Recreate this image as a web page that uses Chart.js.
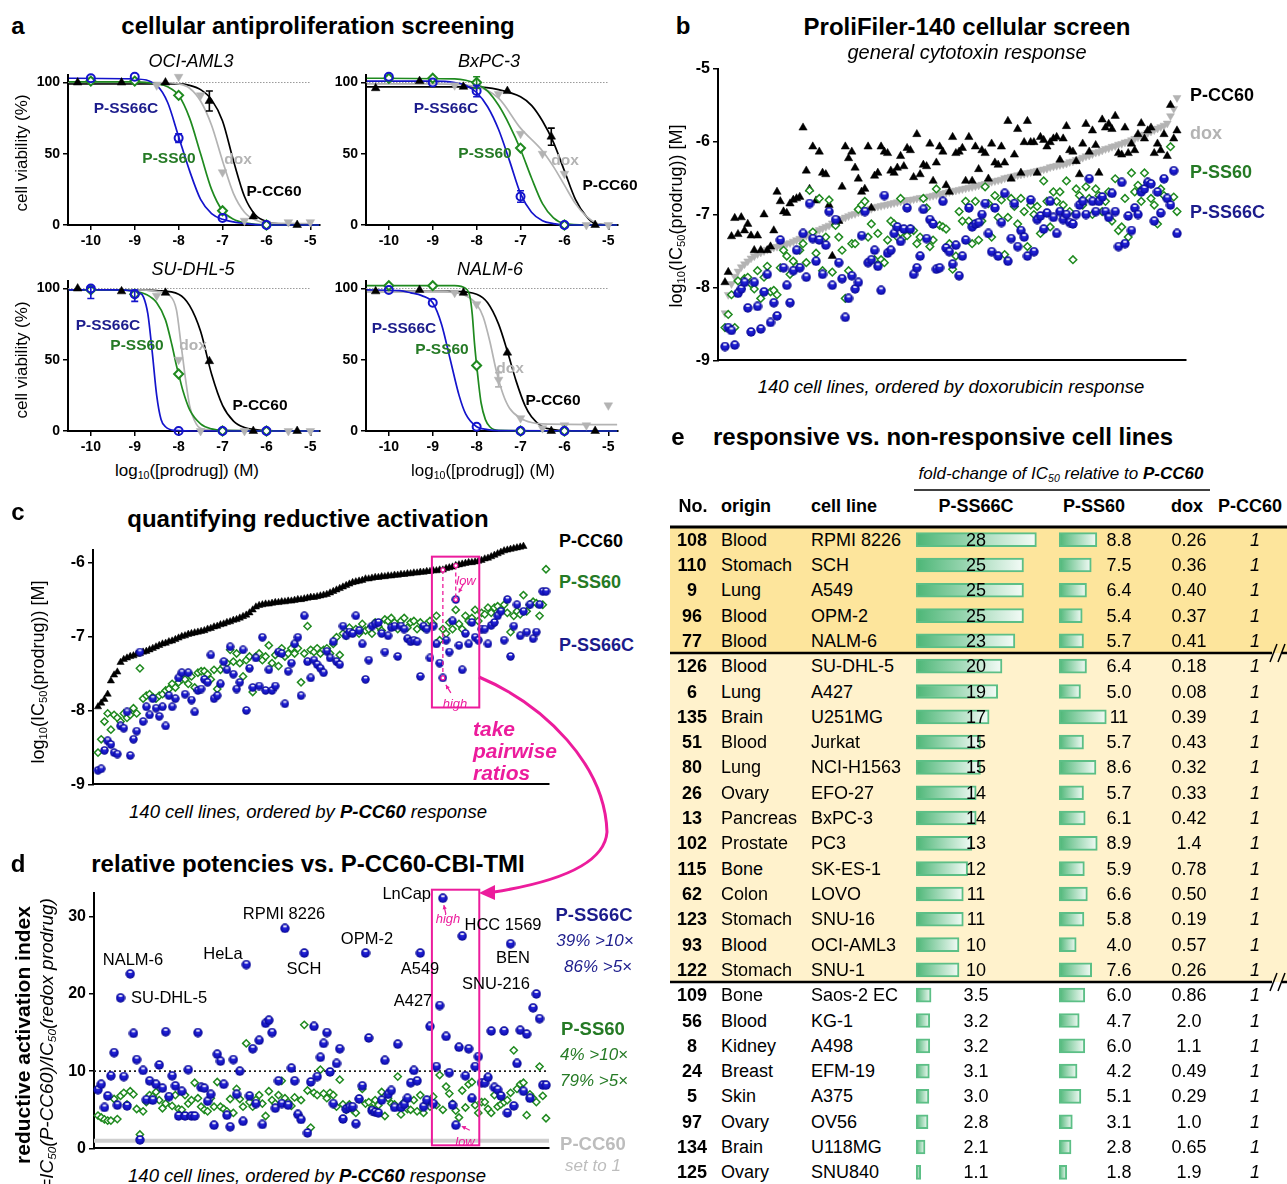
<!DOCTYPE html>
<html>
<head>
<meta charset="utf-8">
<title>reductive activation screening</title>
<script src="https://cdn.jsdelivr.net/npm/chart.js@4.4.1/dist/chart.umd.min.js"></script>
<style>
  html, body { margin: 0; background: #fff; }
  #page { position: relative; width: 1287px; height: 1184px; overflow: hidden; font-family: "Liberation Sans", Arial, sans-serif; color: #000; }
  #page canvas { position: absolute; z-index: 1; }
  .t { position: absolute; white-space: nowrap; line-height: 1; z-index: 2; }
  .bg { position: absolute; z-index: 0; }
  sub { font-size: 0.62em; vertical-align: -0.3em; line-height: 0; }
  #ov { position: absolute; left: 0; top: 0; z-index: 3; pointer-events: none; }
</style>
</head>
<body>
<div id="page">
  <div class="bg" style="left:670px;top:527px;width:617px;height:126px;background:#fde59c"></div>
  <div class="bg" style="left:670px;top:653px;width:617px;height:329px;background:#fff2cc"></div>
  <svg id="ov" width="1287" height="1184">
    <path d="M479 677 C545 705 605 765 607 832 C605 860 570 880 494 892" stroke="#ec1c9c" stroke-width="3" fill="none"/>
    <polygon points="479,893 495,885 495,900" fill="#ec1c9c"/>
    <line x1="914" y1="490" x2="1210" y2="490" stroke="#000" stroke-width="1.5"/>
    <line x1="670" y1="527" x2="1287" y2="527" stroke="#000" stroke-width="3"/>
    <line x1="670" y1="653" x2="1272" y2="653" stroke="#000" stroke-width="2.5"/>
    <line x1="1282" y1="653" x2="1287" y2="653" stroke="#000" stroke-width="2.5"/>
    <line x1="1270" y1="662" x2="1277" y2="644" stroke="#000" stroke-width="1.5"/>
    <line x1="1278" y1="662" x2="1285" y2="644" stroke="#000" stroke-width="1.5"/>
    <line x1="670" y1="982" x2="1272" y2="982" stroke="#000" stroke-width="2.5"/>
    <line x1="1282" y1="982" x2="1287" y2="982" stroke="#000" stroke-width="2.5"/>
    <line x1="1270" y1="991" x2="1277" y2="973" stroke="#000" stroke-width="1.5"/>
    <line x1="1278" y1="991" x2="1285" y2="973" stroke="#000" stroke-width="1.5"/>
  </svg>
</div>
<script>
// =========================
// DATA
// =========================

// panel a: dose-response, 4 cell lines
const aLines = ["OCI-AML3", "BxPC-3", "SU-DHL-5", "NALM-6"];
const aDoseProd = [-10, -9, -8, -7, -6];
const aDoseCC = [-10.3, -9.3, -8.3, -7.3, -6.3, -5.3];
const aDoseDox = [-8.5, -8, -7.5, -7, -6.5, -6, -5.5, -5];

const aSS66C = [[103, 104, 61, 5, 0], [104, 100, 94, 20, 0], [100, 96, 0, 0, 0], [99, 90, 3, 0, 0]];
const aSS60 = [[101, 101, 91, 10, 0], [103, 103, 100, 54, 0], [99, 96, 40, 0, 0], [102, 102, 46, 0, 0]];
const aCC60 = [[100, 100, 100, 87, 6, 0], [96, 101, 97, 94, 62, 0], [100, 98, 97, 49, 0, 0], [98, 99, 97, 55, 0, 0]];
const aDox = [[98, 104, 91, 37, 3, 1, 2, 2], [98, 97, 92, 64, 50, 36, 0, 0], [95, 50, 0, 0, 0, 0, 0, 0], [97, 89, 36, 9, 2, 4, 4, 18]];

// fitted curves, [log dose, viability]
const aFitSS66C = [
  [[-10.5, 103], [-9, 102.5], [-8.5, 98], [-8.25, 86], [-8, 62], [-7.75, 38], [-7.5, 18], [-7.25, 8], [-7, 4], [-6.5, 1], [-6, 0], [-4.8, 0]],
  [[-10.5, 101], [-9, 101], [-8.5, 100], [-8.25, 98], [-8, 93], [-7.75, 83], [-7.5, 67], [-7.25, 45], [-7, 22], [-6.75, 9], [-6.5, 3], [-6.25, 1], [-6, 0], [-4.8, 0]],
  [[-10.5, 99], [-9.5, 99], [-9, 98], [-8.9, 97], [-8.8, 94], [-8.7, 82], [-8.6, 55], [-8.5, 25], [-8.4, 8], [-8.3, 3], [-8.1, 0.5], [-7.5, 0], [-4.8, 0]],
  [[-10.5, 99], [-9.75, 98.5], [-9.5, 97], [-9.25, 95], [-9, 90], [-8.8, 75], [-8.6, 50], [-8.4, 25], [-8.25, 12], [-8, 3], [-7.75, 1], [-7.5, 0.3], [-4.8, 0]]
];
const aFitSS60 = [
  [[-10.5, 100.5], [-9, 100.5], [-8.5, 99], [-8.25, 97], [-8, 91], [-7.75, 75], [-7.5, 50], [-7.25, 25], [-7, 10], [-6.75, 4], [-6.5, 1.5], [-6, 0], [-4.8, 0]],
  [[-10.5, 103], [-8.5, 102.5], [-8, 99], [-7.75, 94], [-7.5, 84], [-7.25, 70], [-7, 53], [-6.75, 33], [-6.5, 15], [-6.25, 5], [-6, 1], [-5.5, 0], [-4.8, 0]],
  [[-10.5, 99], [-9.5, 99], [-9, 98], [-8.75, 96], [-8.5, 90], [-8.3, 78], [-8.15, 60], [-8.05, 46], [-8, 40], [-7.9, 28], [-7.75, 15], [-7.5, 5], [-7.25, 1.5], [-7, 0.5], [-4.8, 0]],
  [[-10.5, 102], [-8.5, 102], [-8.25, 100], [-8.15, 94], [-8.1, 82], [-8.05, 62], [-8, 46], [-7.95, 32], [-7.9, 20], [-7.8, 8], [-7.7, 3], [-7.5, 0.5], [-4.8, 0]]
];
const aFitDox = [
  [[-10.5, 100], [-8.5, 100], [-8, 99], [-7.75, 96], [-7.5, 87], [-7.25, 70], [-7, 45], [-6.75, 22], [-6.5, 9], [-6.25, 3.5], [-6, 1.5], [-5, 1]],
  [[-10.5, 99], [-9, 99], [-8, 97], [-7.5, 89], [-7, 68], [-6.5, 52], [-6.25, 41], [-6, 28], [-5.75, 15], [-5.5, 6], [-5.25, 1], [-5, 0]],
  [[-10.5, 99], [-9, 99], [-8.5, 98], [-8.2, 95], [-8.05, 85], [-7.95, 62], [-7.9, 50], [-7.85, 38], [-7.75, 18], [-7.6, 5], [-7.4, 1], [-4.8, 0]],
  [[-10.5, 98], [-9, 98], [-8.5, 97], [-8.25, 95], [-8, 89], [-7.85, 80], [-7.7, 63], [-7.55, 42], [-7.4, 26], [-7.25, 16], [-7, 9], [-6.75, 6], [-6.5, 5], [-4.8, 4.5]]
];
const aFitCC60 = [
  [[-10.5, 99], [-8, 99], [-7.75, 98], [-7.5, 95], [-7.25, 88], [-7, 73], [-6.75, 45], [-6.5, 20], [-6.25, 7], [-6, 2.5], [-5.5, 0.5], [-4.8, 0]],
  [[-10.5, 97], [-8, 97], [-7.5, 95], [-7, 90], [-6.75, 84], [-6.5, 73], [-6.25, 58], [-6, 38], [-5.75, 18], [-5.5, 6], [-5.3, 1], [-4.8, 0]],
  [[-10.5, 99], [-9, 99], [-8.5, 98.5], [-8, 96], [-7.75, 88], [-7.5, 70], [-7.25, 40], [-7, 18], [-6.75, 7], [-6.5, 2.5], [-6.25, 1], [-6, 0.3], [-4.8, 0]],
  [[-10.5, 98], [-8.5, 98], [-8, 96], [-7.75, 90], [-7.5, 75], [-7.3, 56], [-7.1, 35], [-6.9, 18], [-6.75, 10], [-6.5, 3], [-6.25, 1], [-6, 0.3], [-4.8, 0]]
];
// error bars [log dose, mean, sd, series]
const aErr = [
  [[-7.3, 87, 7, "cc"], [-8, 61, 3, "ss66c"]],
  [[-8, 100, 4, "ss60"], [-8, 94, 4, "ss66c"], [-7, 20, 4, "ss66c"], [-6.3, 62, 6, "cc"]],
  [[-10, 97, 4, "ss66c"], [-9, 95, 4, "ss66c"]],
  [[-7.5, 36, 5, "dox"]]
];

// panel b: log10 IC50 over 140 cell lines ordered by doxorubicin
const bDox = [
  -8.35, -8.10, -7.95, -7.85, -7.78, -7.72, -7.68, -7.64, -7.60, -7.57,
  -7.54, -7.52, -7.50, -7.48, -7.47, -7.45, -7.44, -7.43, -7.42, -7.40,
  -7.39, -7.37, -7.35, -7.33, -7.31, -7.29, -7.27, -7.25, -7.23, -7.21,
  -7.19, -7.17, -7.15, -7.12, -7.10, -7.08, -7.06, -7.04, -7.02, -7.00,
  -6.99, -6.97, -6.96, -6.94, -6.93, -6.92, -6.90, -6.89, -6.88, -6.87,
  -6.86, -6.85, -6.84, -6.83, -6.82, -6.81, -6.80, -6.80, -6.79, -6.78,
  -6.77, -6.77, -6.76, -6.75, -6.74, -6.73, -6.72, -6.71, -6.70, -6.69,
  -6.68, -6.67, -6.66, -6.65, -6.64, -6.63, -6.62, -6.61, -6.60, -6.59,
  -6.58, -6.57, -6.55, -6.54, -6.53, -6.52, -6.50, -6.49, -6.48, -6.47,
  -6.46, -6.45, -6.44, -6.43, -6.42, -6.41, -6.40, -6.39, -6.38, -6.37,
  -6.35, -6.34, -6.33, -6.32, -6.31, -6.30, -6.28, -6.27, -6.25, -6.24,
  -6.22, -6.20, -6.19, -6.17, -6.15, -6.14, -6.12, -6.10, -6.09, -6.07,
  -6.06, -6.04, -6.03, -6.01, -6.00, -5.98, -5.96, -5.94, -5.92, -5.90,
  -5.88, -5.86, -5.84, -5.82, -5.80, -5.78, -5.75, -5.65, -5.55, -5.40
];
const bCC60 = [
  -7.93, -7.79, -7.30, -7.05, -7.27, -7.04, -7.22, -7.13, -7.29, -7.49,
  -7.29, -7.49, -7.00, -7.49, -7.44, -7.22, -6.69, -6.82, -6.96, -6.98,
  -6.85, -6.80, -6.78, -6.76, -5.81, -6.40, -6.65, -6.07, -6.81, -6.14,
  -6.43, -6.45, -6.87, -7.57, -7.11, -7.09, -6.62, -6.07, -6.23, -6.14,
  -6.36, -6.51, -6.69, -6.65, -6.07, -6.91, -6.47, -6.43, -6.07, -6.14,
  -6.16, -6.40, -6.43, -6.36, -6.20, -6.34, -6.09, -6.12, -6.49, -5.90,
  -6.45, -6.32, -6.34, -6.03, -6.54, -6.29, -6.07, -6.14, -6.60, -6.69,
  -5.94, -6.16, -6.14, -6.09, -6.54, -5.94, -6.54, -6.07, -6.38, -6.12,
  -6.16, -6.51, -6.03, -6.29, -6.32, -6.07, -6.29, -5.72, -6.51, -6.18,
  -5.83, -6.43, -6.01, -5.72, -6.01, -6.01, -6.43, -5.94, -5.98, -6.07,
  -6.01, -5.96, -5.94, -6.25, -5.96, -5.79, -6.12, -6.14, -6.27, -6.45,
  -6.03, -5.76, -6.14, -5.85, -6.05, -6.43, -5.70, -5.81, -5.76, -5.83,
  -5.65, -6.16, -6.18, -5.81, -6.16, -6.03, -6.12, -5.90, -5.75, -5.96,
  -5.85, -5.81, -6.16, -6.03, -6.12, -5.90, -6.20, -5.50, -5.96, -5.85
];
const bSS60 = [
  -8.55, -8.37, -8.10, -8.55, -7.91, -8.02, -7.88, -7.86, -7.95, -8.02,
  -7.77, -8.15, -7.86, -7.71, -8.06, -8.04, -8.10, -7.73, -7.49, -7.57,
  -7.82, -7.64, -7.71, -7.49, -7.40, -7.66, -6.67, -7.24, -7.53, -6.78,
  -7.77, -7.31, -6.80, -7.79, -7.15, -7.31, -7.49, -8.15, -7.77, -7.40,
  -7.40, -6.93, -6.87, -6.82, -7.31, -7.13, -7.62, -7.26, -7.62, -7.66,
  -7.35, -7.09, -7.13, -7.31, -6.78, -7.31, -7.29, -7.20, -7.22, -7.40,
  -7.31, -6.78, -6.91, -7.44, -7.35, -6.65, -7.15, -7.17, -7.20, -7.40,
  -7.75, -7.57, -6.96, -7.09, -6.82, -7.09, -7.40, -6.82, -7.35, -7.09,
  -6.62, -6.85, -7.31, -6.74, -7.04, -6.80, -7.55, -7.04, -6.78, -6.89,
  -7.13, -6.78, -6.96, -7.44, -6.87, -7.00, -6.89, -7.26, -6.54, -6.82,
  -7.17, -6.69, -6.82, -6.69, -6.87, -6.54, -6.96, -7.62, -6.65, -6.74,
  -6.87, -6.62, -6.78, -7.00, -6.65, -6.74, -6.96, -6.82, -6.69, -7.09,
  -6.51, -7.22, -7.17, -6.78, -7.31, -6.43, -6.69, -6.60, -6.82, -6.43,
  -6.56, -6.78, -6.87, -7.13, -6.65, -6.74, -6.78, -6.07, -6.76, -6.96
];
const bSS66C = [
  -8.81, -8.55, -8.59, -8.79, -8.08, -8.02, -7.93, -8.28, -8.61, -7.93,
  -8.26, -8.57, -8.06, -7.82, -8.48, -8.21, -8.39, -7.35, -7.73, -7.97,
  -8.21, -7.77, -7.49, -7.73, -7.26, -7.86, -6.85, -7.33, -7.64, -7.35,
  -7.82, -7.42, -6.96, -7.97, -7.07, -7.66, -7.88, -8.41, -8.15, -7.84,
  -8.02, -7.93, -7.29, -6.96, -7.66, -7.62, -7.49, -7.71, -8.04, -6.74,
  -7.53, -7.49, -7.26, -7.17, -7.37, -7.20, -6.91, -7.20, -7.82, -7.73,
  -7.57, -6.93, -7.33, -7.07, -7.13, -7.75, -7.73, -6.82, -7.46, -7.51,
  -7.68, -7.42, -7.84, -7.57, -7.35, -6.91, -7.17, -7.13, -7.11, -7.00,
  -6.85, -7.26, -7.51, -6.91, -7.57, -7.11, -6.71, -7.64, -7.33, -6.85,
  -7.44, -7.22, -7.31, -7.57, -6.80, -7.51, -7.07, -7.02, -7.20, -6.98,
  -6.82, -7.04, -7.26, -6.96, -7.07, -7.00, -7.11, -7.13, -7.00, -6.87,
  -6.82, -7.00, -6.51, -6.82, -6.96, -6.82, -6.76, -6.96, -7.04, -6.71,
  -6.96, -7.44, -6.56, -7.40, -7.02, -7.22, -6.91, -7.00, -6.69, -6.65,
  -6.56, -6.58, -7.09, -6.69, -6.98, -6.51, -6.78, -6.87, -6.40, -7.26
];

// panel c: same screen ordered by P-CC60
const cCC60 = [
  -7.95, -7.90, -7.85, -7.78, -7.60, -7.52, -7.48, -7.35, -7.31, -7.29,
  -7.27, -7.26, -7.24, -7.23, -7.21, -7.20, -7.18, -7.16, -7.14, -7.12,
  -7.10, -7.09, -7.07, -7.06, -7.04, -7.02, -7.00, -6.99, -6.97, -6.96,
  -6.95, -6.94, -6.93, -6.92, -6.90, -6.89, -6.87, -6.86, -6.84, -6.83,
  -6.81, -6.80, -6.78, -6.77, -6.75, -6.73, -6.71, -6.68, -6.64, -6.60,
  -6.58, -6.57, -6.56, -6.56, -6.55, -6.54, -6.54, -6.53, -6.53, -6.52,
  -6.52, -6.51, -6.50, -6.50, -6.49, -6.48, -6.47, -6.47, -6.46, -6.45,
  -6.44, -6.43, -6.41, -6.39, -6.37, -6.35, -6.33, -6.31, -6.29, -6.27,
  -6.26, -6.25, -6.24, -6.22, -6.22, -6.21, -6.20, -6.20, -6.19, -6.19,
  -6.18, -6.18, -6.17, -6.17, -6.16, -6.16, -6.15, -6.15, -6.14, -6.14,
  -6.13, -6.13, -6.12, -6.12, -6.11, -6.11, -6.10, -6.10, -6.08, -6.07,
  -6.06, -6.04, -6.03, -6.02, -6.01, -6.00, -6.00, -5.99, -5.98, -5.97,
  -5.95, -5.94, -5.92, -5.90, -5.88, -5.86, -5.84, -5.83, -5.82, -5.81,
  -5.80, -5.79, -5.78, -5.76, -5.75, -5.74, -5.72, -5.70, -5.68, -5.66
];
const cSS60 = [
  -8.57, -8.39, -8.15, -8.04, -8.26, -8.06, -8.10, -8.15, -8.04, -8.10,
  -8.06, -7.97, -8.04, -7.43, -7.84, -7.80, -7.78, -7.82, -7.84, -7.80,
  -7.78, -7.73, -7.71, -7.64, -7.69, -7.62, -7.58, -7.58, -7.64, -7.54,
  -7.69, -7.49, -7.47, -7.47, -7.51, -7.58, -7.45, -7.71, -7.45, -7.40,
  -7.36, -7.18, -7.34, -7.23, -7.36, -7.54, -7.32, -7.27, -7.75, -7.27,
  -7.23, -7.32, -7.27, -7.12, -7.36, -7.25, -7.40, -7.16, -7.27, -7.23,
  -7.16, -7.23, -7.16, -7.62, -7.23, -6.86, -7.18, -7.21, -7.16, -7.23,
  -7.18, -7.16, -7.23, -7.10, -7.01, -7.25, -6.96, -6.99, -6.88, -6.94,
  -6.90, -6.96, -6.83, -6.92, -6.90, -6.96, -6.81, -6.86, -6.92, -6.77,
  -6.79, -6.75, -6.81, -6.90, -6.79, -6.75, -6.88, -6.81, -6.79, -6.90,
  -6.81, -6.88, -6.83, -6.79, -6.83, -6.72, -7.05, -6.90, -6.96, -6.81,
  -6.90, -6.64, -6.83, -6.90, -6.72, -6.79, -6.75, -6.64, -6.79, -6.68,
  -6.70, -6.61, -6.68, -6.61, -6.59, -6.64, -6.57, -6.68, -6.94, -6.72,
  -6.66, -6.70, -6.44, -6.66, -6.57, -6.53, -6.55, -6.72, -6.57, -6.09
];
const cSS66C = [
  -8.81, -8.79, -8.54, -8.41, -8.46, -8.57, -8.59, -8.21, -8.24, -8.02,
  -8.61, -8.39, -8.28, -7.21, -8.15, -7.95, -8.06, -7.84, -7.97, -8.08,
  -7.95, -8.21, -7.80, -7.95, -7.84, -7.56, -7.49, -7.78, -7.49, -7.86,
  -8.02, -7.73, -7.71, -7.58, -7.62, -7.25, -7.84, -7.80, -7.64, -7.34,
  -7.45, -7.14, -7.51, -7.71, -7.62, -7.18, -8.00, -7.43, -7.69, -7.29,
  -7.67, -7.01, -7.73, -7.45, -7.73, -7.67, -7.21, -7.23, -7.91, -7.47,
  -7.36, -7.10, -7.01, -7.80, -6.72, -7.34, -7.56, -7.32, -7.38, -7.43,
  -7.49, -7.20, -7.29, -7.07, -7.34, -7.38, -6.86, -6.99, -6.94, -6.96,
  -6.72, -6.92, -7.10, -7.58, -7.32, -6.86, -6.83, -6.81, -6.96, -7.21,
  -6.99, -6.88, -6.86, -7.27, -6.86, -6.90, -7.03, -7.07, -7.05, -7.07,
  -7.54, -6.86, -6.90, -7.29, -6.86, -7.10, -7.36, -7.56, -7.05, -7.21,
  -6.79, -6.50, -7.12, -7.45, -6.96, -7.10, -6.81, -7.01, -7.05, -6.90,
  -6.90, -7.10, -6.85, -6.81, -6.72, -6.66, -7.05, -6.50, -7.27, -6.86,
  -6.57, -6.99, -6.66, -6.94, -6.57, -7.03, -6.94, -6.57, -6.39, -6.39
];
const hiIdx = 107, loIdx = 111;          // highlighted pair
const boxIdx = [103.6, 118.3];           // pink window (cell-line index)
const cBoxY = [-5.92, -7.96];
const dBoxY = [33.5, 0.4];

// panel d: reductive activation index (fold vs P-CC60)
const dSS66C = [
  7.6, 8.3, 5.3, 6.8, 9.4, 12.4, 5.6, 19.5, 9.3, 5.5,
  22.6, 14.9, 11.5, 1.1, 10.1, 6.3, 8.75, 6.25, 8.3, 10.8,
  7.8, 15.1, 6.7, 9.4, 8.1, 4.2, 7.4, 4.2, 10.2, 4.2,
  4.2, 15.0, 7.9, 7.8, 6.1, 7.0, 3.0, 12.2, 11.3, 8.3,
  4.3, 2.8, 11.5, 7.0, 10.0, 3.5, 23.8, 6.8, 12.9, 5.8,
  14.0, 3.1, 16.2, 16.6, 15.0, 5.2, 8.75, 5.8, 28.5, 5.6,
  10.4, 8.75, 4.4, 3.75, 25.3, 2.0, 8.6, 15.8, 9.3, 11.8,
  13.6, 15.0, 9.9, 5.8, 11.0, 12.9, 3.8, 5.1, 5.3, 5.4,
  3.2, 6.4, 8.1, 25.3, 14.3, 4.9, 4.7, 4.6, 6.25, 11.4,
  7.0, 7.5, 5.3, 13.5, 5.3, 5.7, 6.5, 8.5, 10.1, 8.75,
  25.3, 5.4, 6.25, 15.8, 5.8, 10.6, 18.5, 32.4, 14.5, 9.8,
  5.6, 3.0, 13.1, 27.5, 9.4, 12.9, 6.5, 10.6, 11.9, 8.5,
  8.5, 9.2, 15.2, 7.9, 7.6, 6.8, 15.2, 4.6, 26.5, 5.5,
  11.0, 15.3, 7.4, 14.8, 6.5, 18.2, 20.0, 16.8, 8.2, 8.2
];
const dSS60 = [
  4.25, 4.0, 3.75, 3.6, 3.6, 6.4, 3.8, 6.8, 7.2, 5.7,
  7.4, 7.0, 5.1, 1.8, 4.8, 6.0, 6.9, 6.7, 7.3, 6.25,
  5.2, 5.8, 6.7, 5.5, 6.9, 5.1, 5.0, 6.9, 5.8, 6.25,
  8.5, 6.5, 5.4, 5.0, 4.8, 6.5, 5.4, 8.6, 5.4, 5.1,
  4.8, 6.4, 4.6, 7.7, 6.4, 5.4, 13.6, 6.0, 5.4, 6.3,
  6.9, 5.8, 4.2, 7.4, 6.25, 5.8, 6.9, 8.75, 6.5, 6.0,
  5.5, 6.6, 4.4, 6.25, 16.0, 7.5, 2.7, 7.2, 6.9, 10.2,
  7.1, 6.5, 7.2, 6.9, 5.4, 8.9, 5.7, 5.0, 5.7, 5.0,
  4.6, 6.4, 7.7, 5.8, 6.0, 5.2, 6.25, 5.6, 7.3, 4.2,
  6.5, 5.8, 5.7, 9.3, 4.4, 6.0, 5.1, 5.0, 6.25, 4.8,
  6.9, 4.6, 5.9, 5.4, 6.7, 5.6, 9.5, 5.0, 8.0, 7.1,
  5.8, 4.9, 4.0, 7.5, 5.3, 8.3, 8.6, 5.6, 4.6, 6.0,
  6.0, 5.1, 4.6, 6.9, 5.4, 5.7, 6.0, 6.25, 7.2, 12.7,
  7.7, 8.3, 8.5, 4.3, 7.0, 6.5, 6.0, 10.6, 6.8, 3.9
];
const dNames = [
  ["NALM-6", 133, 959, "c"], ["SU-DHL-5", 131, 997, "l"], ["HeLa", 223, 953, "c"],
  ["RPMI 8226", 284, 913, "c"], ["SCH", 304, 968, "c"], ["OPM-2", 367, 938, "c"],
  ["A549", 420, 968, "c"], ["A427", 413, 1000, "c"], ["LnCap", 431, 893, "r"],
  ["HCC 1569", 503, 924, "c"], ["BEN", 513, 957, "c"], ["SNU-216", 496, 983, "c"]
];

// panel e: table
const eNo = [108, 110, 9, 96, 77, 126, 6, 135, 51, 80, 26, 13, 102, 115, 62, 123, 93, 122, 109, 56, 8, 24, 5, 97, 134, 125];
const eOrigin = ["Blood", "Stomach", "Lung", "Blood", "Blood", "Blood", "Lung", "Brain", "Blood", "Lung", "Ovary", "Pancreas", "Prostate",
  "Bone", "Colon", "Stomach", "Blood", "Stomach", "Bone", "Blood", "Kidney", "Breast", "Skin", "Ovary", "Brain", "Ovary"];
const eCell = ["RPMI 8226", "SCH", "A549", "OPM-2", "NALM-6", "SU-DHL-5", "A427", "U251MG", "Jurkat", "NCI-H1563", "EFO-27", "BxPC-3", "PC3",
  "SK-ES-1", "LOVO", "SNU-16", "OCI-AML3", "SNU-1", "Saos-2 EC", "KG-1", "A498", "EFM-19", "A375", "OV56", "U118MG", "SNU840"];
const eSS66C = [28, 25, 25, 25, 23, 20, 19, 17, 15, 15, 14, 14, 13, 12, 11, 11, 10, 10, 3.5, 3.2, 3.2, 3.1, 3.0, 2.8, 2.1, 1.1];
const eSS60 = [8.8, 7.5, 6.4, 5.4, 5.7, 6.4, 5.0, 11, 5.7, 8.6, 5.7, 6.1, 8.9, 5.9, 6.6, 5.8, 4.0, 7.6, 6.0, 4.7, 6.0, 4.2, 5.1, 3.1, 2.8, 1.8];
const eDox = [0.26, 0.36, 0.40, 0.37, 0.41, 0.18, 0.08, 0.39, 0.43, 0.32, 0.33, 0.42, 1.4, 0.78, 0.50, 0.19, 0.57, 0.26, 0.86, 2.0, 1.1, 0.49, 0.29, 1.0, 0.65, 1.9];

// =========================
// STYLE
// =========================

const C_BLUE = "#1414cc", C_BLUE_T = "#1c1c8c", C_GREEN = "#1f8a1f", C_GREEN_T = "#257a25";
const C_GRAY = "#b3b3b3", C_PINK = "#ec1c9c";
const FONT = '"Liberation Sans", Arial, sans-serif';

Chart.defaults.font.family = FONT;
Chart.defaults.color = "#000";

const page = document.getElementById("page");

function T(x, y, html, css, anchor) {
  const d = document.createElement("div");
  d.className = "t";
  d.innerHTML = html;
  d.style.cssText = "left:" + x + "px;top:" + y + "px;" + (css || "");
  const a = anchor || "c";
  d.style.transform = a === "l" ? "translate(0,-50%)" : a === "r" ? "translate(-100%,-50%)"
    : a === "v" ? "translate(-50%,-50%) rotate(-90deg)" : "translate(-50%,-50%)";
  page.appendChild(d);
}
const f = (size, extra) => "font-size:" + size + "px;" + (extra || "");
const B = "font-weight:bold;", I = "font-style:italic;";

function sphere(d) {
  const c = document.createElement("canvas");
  c.width = d; c.height = d;
  const g = c.getContext("2d"), r = d / 2;
  const gr = g.createRadialGradient(r, r * 0.9, 0, r, r, r);
  gr.addColorStop(0, "#2c2ce2");
  gr.addColorStop(0.7, "#1010b8");
  gr.addColorStop(1, "#05057c");
  g.fillStyle = gr;
  g.beginPath(); g.arc(r, r, r - 0.3, 0, 2 * Math.PI); g.fill();
  g.fillStyle = "rgba(255,255,255,0.95)";
  g.beginPath(); g.ellipse(r, r * 0.6, r * 0.42, r * 0.2, 0, 0, 2 * Math.PI); g.fill();
  return c;
}
const ball10 = sphere(10), ball9 = sphere(9);

function lin(min, max, ticks, size) {
  const ax = {
    type: "linear", min, max,
    border: { display: true, color: "#000", width: 2 },
    grid: { display: true, drawOnChartArea: false, drawTicks: !!ticks, tickLength: 5, color: "#000", lineWidth: 1.5 },
    ticks: { display: !!ticks, color: "#000", font: { size: size, weight: "bold" }, padding: 3, autoSkip: false, maxRotation: 0,
      callback: v => String(v) }
  };
  if (ticks) ax.afterBuildTicks = s => { s.ticks = ticks.map(v => ({ value: v })); };
  return ax;
}

function plot(b, datasets, xs, ys, plugins) {
  const cv = document.createElement("canvas");
  const W = Math.round(b.yw + b.w + b.pr), H = Math.round(b.pt + b.h + b.xh);
  cv.width = W; cv.height = H;
  cv.style.left = (b.l - b.yw) + "px";
  cv.style.top = (b.t - b.pt) + "px";
  cv.style.width = W + "px"; cv.style.height = H + "px";
  page.appendChild(cv);
  xs.afterFit = s => { s.height = b.xh; };
  ys.afterFit = s => { s.width = b.yw; };
  return new Chart(cv, {
    type: "scatter",
    data: { datasets },
    options: {
      responsive: false, maintainAspectRatio: false, animation: false, events: [],
      layout: { padding: { top: b.pt, right: b.pr, left: 0, bottom: 0 }, autoPadding: false },
      scales: { x: xs, y: ys },
      plugins: { legend: { display: false }, tooltip: { enabled: false } }
    },
    plugins: plugins || []
  });
}

const xy = (xs, ys) => xs.map((x, i) => ({ x, y: ys[i] }));
const pairs = arr => arr.map(([x, y]) => ({ x, y }));
const idx = arr => arr.map((y, i) => ({ x: i, y }));

const ballSet = (data, img) => ({ data, pointStyle: img, pointRadius: 5, clip: false });
const diaSet = (data, r, w) => ({ data, pointStyle: "rectRot", pointRadius: r, borderColor: C_GREEN, backgroundColor: "#fff",
  borderWidth: w, pointBorderWidth: w, clip: false });
const triSet = (data, r, col, rot) => ({ data, pointStyle: "triangle", pointRotation: rot || 0, pointRadius: r, borderColor: col,
  backgroundColor: col, borderWidth: 0.5, pointBorderWidth: 0.5, clip: false });
const curveSet = (data, col, w, dash) => ({ data, showLine: true, pointRadius: 0, borderColor: col, borderWidth: w,
  borderDash: dash || [], cubicInterpolationMode: "monotone", clip: false });

function arrow(g, x1, y1, x2, y2) {
  const a = Math.atan2(y2 - y1, x2 - x1), h = 4.5;
  g.beginPath(); g.moveTo(x1, y1); g.lineTo(x2, y2); g.stroke();
  g.beginPath(); g.moveTo(x2, y2);
  g.lineTo(x2 - h * Math.cos(a - 0.5), y2 - h * Math.sin(a - 0.5));
  g.lineTo(x2 - h * Math.cos(a + 0.5), y2 - h * Math.sin(a + 0.5));
  g.closePath(); g.fill();
}

// =========================
// PANEL A
// =========================

const errColor = { cc: "#000", ss66c: C_BLUE, ss60: C_GREEN, dox: C_GRAY };
const errPlugin = list => ({
  id: "errbars",
  afterDatasetsDraw(ch) {
    const g = ch.ctx, sx = ch.scales.x, sy = ch.scales.y;
    g.save(); g.lineWidth = 1.6;
    list.forEach(([x, y, e, s]) => {
      const px = sx.getPixelForValue(x), p1 = sy.getPixelForValue(y - e), p2 = sy.getPixelForValue(y + e);
      g.strokeStyle = errColor[s];
      g.beginPath();
      g.moveTo(px, p1); g.lineTo(px, p2);
      g.moveTo(px - 3.5, p1); g.lineTo(px + 3.5, p1);
      g.moveTo(px - 3.5, p2); g.lineTo(px + 3.5, p2);
      g.stroke();
    });
    g.restore();
  }
});

const aBoxes = [[68, 73.8], [366, 73.8], [68, 279.8], [366, 279.8]];
aLines.forEach((name, k) => {
  const [l, t] = aBoxes[k];
  plot({ l, t, w: 252, h: 151.2, yw: 42, xh: 28, pt: 10, pr: 12 }, [
    { data: xy(aDoseProd, aSS66C[k]), pointStyle: "circle", pointRadius: 4, borderColor: C_BLUE, backgroundColor: "rgba(255,255,255,0)",
      borderWidth: 2, pointBorderWidth: 2, clip: false },
    diaSet(xy(aDoseProd, aSS60[k]), 4.5, 2),
    triSet(xy(aDoseCC, aCC60[k]), 5, "#000"),
    triSet(xy(aDoseDox, aDox[k]), 5, C_GRAY, 180),
    curveSet(pairs(aFitSS66C[k]), C_BLUE, 1.7),
    curveSet(pairs(aFitSS60[k]), C_GREEN, 1.7),
    curveSet(pairs(aFitDox[k]), C_GRAY, 1.7),
    curveSet(pairs(aFitCC60[k]), "#000", 1.7),
    curveSet([{ x: -10.52, y: 100 }, { x: -5, y: 100 }], "#9a9a9a", 1, [1.5, 1.5])
  ], lin(-10.52, -4.78, [-10, -9, -8, -7, -6, -5], 14), lin(0, 105, [0, 50, 100], 14), [errPlugin(aErr[k])]);
});

// =========================
// PANEL B
// =========================

plot({ l: 718, t: 66, w: 468, h: 301, yw: 48, xh: 6, pt: 10, pr: 12 }, [
  ballSet(idx(bSS66C), ball10),
  diaSet(idx(bSS60), 3.8, 1.5),
  triSet(idx(bCC60), 4.8, "#000"),
  triSet(idx(bDox), 4.6, C_GRAY, 180)
], lin(-2.15, 141.77, null, 16), lin(-9, -5, [-9, -8, -7, -6, -5], 16));

// =========================
// PANEL C
// =========================

const cMarks = {
  id: "cMarks",
  afterDatasetsDraw(ch) {
    const g = ch.ctx, sx = ch.scales.x, sy = ch.scales.y;
    g.save();
    g.strokeStyle = C_PINK; g.fillStyle = C_PINK; g.lineWidth = 2;
    const bx1 = sx.getPixelForValue(boxIdx[0]), bx2 = sx.getPixelForValue(boxIdx[1]);
    const by1 = sy.getPixelForValue(cBoxY[0]), by2 = sy.getPixelForValue(cBoxY[1]);
    g.strokeRect(bx1, by1, bx2 - bx1, by2 - by1);
    g.lineWidth = 1.3;
    [hiIdx, loIdx].forEach(i => {
      const px = sx.getPixelForValue(i), p1 = sy.getPixelForValue(cCC60[i]), p2 = sy.getPixelForValue(cSS66C[i]);
      g.setLineDash([4, 3]);
      g.beginPath(); g.moveTo(px, p1); g.lineTo(px, p2); g.stroke();
      g.setLineDash([]);
      [p1, p2].forEach(py => {
        g.beginPath(); g.arc(px, py, 2, 0, 2 * Math.PI);
        g.fillStyle = "#fff"; g.fill(); g.stroke();
      });
    });
    g.fillStyle = C_PINK; g.lineWidth = 1.2;
    const lx = sx.getPixelForValue(loIdx), ly = sy.getPixelForValue(cSS66C[loIdx]);
    arrow(g, lx + 8, ly - 16, lx + 3, ly - 7);
    const hx = sx.getPixelForValue(hiIdx), hy = sy.getPixelForValue(cSS66C[hiIdx]);
    arrow(g, hx + 8, hy + 15, hx + 3, hy + 7);
    g.restore();
  }
};

plot({ l: 93, t: 550, w: 456, h: 241, yw: 45, xh: 6, pt: 16, pr: 10 }, [
  ballSet(idx(cSS66C), ball9),
  diaSet(idx(cSS60), 3.6, 1.5),
  triSet(idx(cCC60), 4.2, "#000")
], lin(-1.55, 139.93, null, 16), lin(-9, -5.83, [-9, -8, -7, -6], 16), [cMarks]);

// =========================
// PANEL D
// =========================

const dMarks = {
  id: "dMarks",
  afterDatasetsDraw(ch) {
    const g = ch.ctx, sx = ch.scales.x, sy = ch.scales.y;
    g.save();
    g.strokeStyle = C_PINK; g.fillStyle = C_PINK; g.lineWidth = 2;
    const bx1 = sx.getPixelForValue(boxIdx[0]), bx2 = sx.getPixelForValue(boxIdx[1]);
    const by1 = sy.getPixelForValue(dBoxY[0]), by2 = sy.getPixelForValue(dBoxY[1]);
    g.strokeRect(bx1, by1, bx2 - bx1, by2 - by1);
    g.lineWidth = 1.2;
    const hx = sx.getPixelForValue(hiIdx), hy = sy.getPixelForValue(dSS66C[hiIdx]);
    arrow(g, hx + 3, hy + 16, hx + 1, hy + 7);
    const lx = sx.getPixelForValue(loIdx), ly = sy.getPixelForValue(dSS66C[loIdx]);
    arrow(g, lx + 14, ly + 5, lx + 6, ly + 1);
    g.restore();
  }
};

plot({ l: 94, t: 890, w: 455, h: 265, yw: 45, xh: 6, pt: 10, pr: 10 }, [
  ballSet(idx(dSS66C), ball10),
  diaSet(idx(dSS60), 3.6, 1.5),
  curveSet([{ x: -1.24, y: 10 }, { x: 139.93, y: 10 }], "#222", 1.8, [2, 3]),
  curveSet([{ x: -1.24, y: 1 }, { x: 139.93, y: 1 }], "#cfcfcf", 4)
], lin(-1.24, 139.93, null, 16), lin(0, 33.125, [0, 10, 20, 30], 16), [dMarks]);

// =========================
// PANEL E bars
// =========================

const PX_PER_FOLD = 4.3;
function barColumn(left, width, vals) {
  const cv = document.createElement("canvas");
  cv.width = width; cv.height = 658;
  cv.style.left = left + "px"; cv.style.top = "527px";
  cv.style.width = width + "px"; cv.style.height = "658px";
  page.appendChild(cv);
  new Chart(cv, {
    type: "bar",
    data: {
      labels: eNo.map(String),
      datasets: [{
        data: vals, barThickness: 14, borderWidth: 2, borderColor: "#5cbf86", borderSkipped: false,
        backgroundColor: c => {
          const sx = c.chart.scales.x;
          if (!sx || typeof c.raw !== "number") return "#8fd3aa";
          const x0 = sx.getPixelForValue(0), x1 = sx.getPixelForValue(c.raw);
          if (!isFinite(x0) || !isFinite(x1) || x1 <= x0) return "#8fd3aa";
          const gr = c.chart.ctx.createLinearGradient(x0, 0, x1, 0);
          gr.addColorStop(0, "#4cb676");
          gr.addColorStop(1, "#f4fbf7");
          return gr;
        }
      }]
    },
    options: {
      indexAxis: "y", responsive: false, animation: false, events: [],
      layout: { padding: 0, autoPadding: false },
      scales: { x: { display: false, min: 0, max: width / PX_PER_FOLD }, y: { display: false } },
      plugins: { legend: { display: false }, tooltip: { enabled: false } }
    }
  });
}
barColumn(916, 140, eSS66C);
barColumn(1059, 60, eSS60);

// =========================
// TEXT
// =========================

// panel a
T(18, 26, "a", f(24, B));
T(318, 26, "cellular antiproliferation screening", f(24, B));
[[191, 61], [489, 61], [193, 269], [490, 269]].forEach(([x, y], k) => T(x, y, aLines[k], f(18, I)));
const aLab = [
  [[126, 108], [169, 158], [238, 159], [274, 191]],
  [[446, 108], [485, 153], [565, 160], [610, 185]],
  [[108, 325], [137, 345], [193, 345], [260, 405]],
  [[404, 328], [442, 349], [510, 368], [553, 400]]
];
aLab.forEach(p => {
  T(p[0][0], p[0][1], "P-SS66C", f(15.5, B + "color:" + C_BLUE_T));
  T(p[1][0], p[1][1], "P-SS60", f(15.5, B + "color:" + C_GREEN_T));
  T(p[2][0], p[2][1], "dox", f(15.5, B + "color:" + C_GRAY));
  T(p[3][0], p[3][1], "P-CC60", f(15.5, B));
});
T(21, 153, "cell viability (%)", f(17), "v");
T(21, 360, "cell viability (%)", f(17), "v");
T(187, 470, "log<sub>10</sub>([prodrug]) (M)", f(17));
T(483, 470, "log<sub>10</sub>([prodrug]) (M)", f(17));

// panel b
T(683, 26, "b", f(24, B));
T(967, 27, "ProliFiler-140 cellular screen", f(24, B));
T(967, 52, "general cytotoxin response", f(20, I));
T(676, 216, "log<sub>10</sub>(IC<sub>50</sub>(prodrug)) [M]", f(18), "v");
T(951, 387, "140 cell lines, ordered by doxorubicin response", f(18.5, I));
T(1190, 95, "P-CC60", f(18, B), "l");
T(1190, 133, "dox", f(18, B + "color:" + C_GRAY), "l");
T(1190, 172, "P-SS60", f(18, B + "color:" + C_GREEN_T), "l");
T(1190, 212, "P-SS66C", f(18, B + "color:" + C_BLUE_T), "l");

// panel c
T(18, 512, "c", f(24, B));
T(308, 519, "quantifying reductive activation", f(24, B));
T(38, 672, "log<sub>10</sub>(IC<sub>50</sub>(prodrug)) [M]", f(18), "v");
T(308, 812, "140 cell lines, ordered by <b>P-CC60</b> response", f(18.5, I));
T(559, 541, "P-CC60", f(18, B), "l");
T(559, 582, "P-SS60", f(18, B + "color:" + C_GREEN_T), "l");
T(559, 645, "P-SS66C", f(18, B + "color:" + C_BLUE_T), "l");
T(473, 728, "take", f(21, B + I + "color:" + C_PINK), "l");
T(473, 750, "pairwise", f(21, B + I + "color:" + C_PINK), "l");
T(473, 772, "ratios", f(21, B + I + "color:" + C_PINK), "l");
T(466, 580, "low", f(13, I + "color:" + C_PINK));
T(455, 703, "high", f(13, I + "color:" + C_PINK));

// panel d
T(18, 864, "d", f(24, B));
T(308, 864, "relative potencies vs. P-CC60-CBI-TMI", f(24, B));
T(22, 1035, "reductive activation index", f(21, B), "v");
T(46, 1044, "=IC<sub>50</sub>(P-CC60)/IC<sub>50</sub>(redox prodrug)", f(19, I), "v");
T(307, 1176, "140 cell lines, ordered by <b>P-CC60</b> response", f(18.5, I));
dNames.forEach(([s, x, y, a]) => T(x, y, s, f(16.5), a));
T(594, 915, "P-SS66C", f(18.5, B + "color:" + C_BLUE_T));
T(595, 940, "39% &gt;10×", f(17, I + "color:" + C_BLUE_T));
T(598, 966, "86% &gt;5×", f(17, I + "color:" + C_BLUE_T));
T(593, 1029, "P-SS60", f(18.5, B + "color:" + C_GREEN_T));
T(594, 1054, "4% &gt;10×", f(17, I + "color:" + C_GREEN_T));
T(594, 1080, "79% &gt;5×", f(17, I + "color:" + C_GREEN_T));
T(593, 1144, "P-CC60", f(18.5, B + "color:#bdbdbd"));
T(593, 1165, "set to 1", f(17, I + "color:#bdbdbd"));
T(448, 918, "high", f(13, I + "color:" + C_PINK));
T(465, 1141, "low", f(13, I + "color:" + C_PINK));

// panel e
T(678, 437, "e", f(24, B));
T(713, 437, "responsive vs. non-responsive cell lines", f(24, B), "l");
T(1061, 473, "fold-change of IC<sub>50</sub> relative to <b>P-CC60</b>", f(17, I));
T(693, 506, "No.", f(18, B));
T(721, 506, "origin", f(18, B), "l");
T(811, 506, "cell line", f(18, B), "l");
T(976, 506, "P-SS66C", f(18, B));
T(1094, 506, "P-SS60", f(18, B));
T(1187, 506, "dox", f(18, B));
T(1250, 506, "P-CC60", f(18, B));
const fmt = v => (v >= 10 ? String(v) : v.toFixed(1));
eNo.forEach((n, k) => {
  const y = 539.65 + k * 25.31;
  T(692, y, String(n), f(18, B));
  T(721, y, eOrigin[k], f(18), "l");
  T(811, y, eCell[k], f(18), "l");
  T(976, y, fmt(eSS66C[k]), f(18));
  T(1119, y, fmt(eSS60[k]), f(18));
  T(1189, y, eDox[k] < 1 ? eDox[k].toFixed(2) : eDox[k].toFixed(1), f(18));
  T(1255, y, "1", f(18, I));
});
</script>
</body>
</html>
